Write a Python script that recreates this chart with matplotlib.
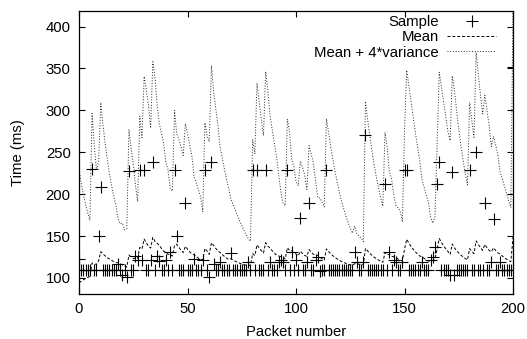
import numpy as np
import matplotlib.pyplot as plt

plt.rcParams['font.family'] = ['Liberation Sans', 'DejaVu Sans']

# round-trip time samples (ms), packet 0..200
samples = [
    123, 110, 110, 110, 110, 110, 230, 110, 110, 150,
    209, 110, 110, 110, 110, 110, 110, 110, 117, 110,
    103, 110, 101, 228, 110, 110, 126, 121, 229, 121,
    229, 110, 110, 121, 238, 110, 126, 120, 110, 110,
    121, 110, 131, 110, 229, 150, 110, 110, 110, 190,
    110, 110, 110, 123, 110, 110, 110, 121, 229, 110,
    101, 239, 117, 110, 110, 119, 110, 110, 110, 110,
    130, 110, 110, 110, 110, 110, 110, 110, 119, 110,
    229, 110, 229, 110, 110, 110, 229, 110, 119, 110,
    110, 110, 119, 121, 119, 110, 229, 110, 131, 110,
    121, 110, 171, 110, 110, 119, 190, 110, 110, 121,
    125, 108, 110, 110, 229, 110, 110, 110, 110, 110,
    110, 110, 110, 110, 110, 110, 110, 131, 119, 110,
    110, 119, 271, 110, 110, 110, 110, 110, 110, 110,
    110, 212, 110, 131, 110, 121, 119, 110, 110, 119,
    229, 229, 110, 110, 110, 110, 110, 110, 119, 110,
    110, 110, 121, 125, 137, 212, 238, 110, 110, 110,
    110, 103, 227, 103, 110, 110, 110, 110, 110, 110,
    229, 110, 110, 250, 110, 110, 110, 189, 110, 110,
    119, 170, 110, 110, 119, 110, 110, 110, 110, 110,
    352,
]

# estimator state before the first packet
mean_start = 90.0
dev_start = 34.0

samples = np.array(samples, dtype=float)
packets = np.arange(len(samples))

# Jacobson estimator: mean gain 1/8, deviation gain 1/4
mean = np.zeros(len(samples))
dev = np.zeros(len(samples))
m, d = mean_start, dev_start
for i, s in enumerate(samples):
    err = s - m
    m = m + err / 8.0
    d = d + (abs(err) - d) / 4.0
    mean[i] = m
    dev[i] = d
upper = mean + 4 * dev

fs = 10.7

fig = plt.figure(figsize=(5.27, 3.39), dpi=100)
ax = fig.add_axes([0.150, 0.133, 0.8235, 0.8355])

ax.plot(packets, samples, '+', color='black', markersize=9, mew=0.8, label='Sample')
ax.plot(packets, mean, color='black', lw=0.7, linestyle=(0, (3, 2)), label='Mean')
ax.plot(packets, upper, color='0.15', lw=0.7, linestyle=(0, (1, 1.8)), label='Mean + 4*variance')

ax.set_xlim(0, 200)
ax.set_ylim(81, 419)
ax.set_xticks([0, 50, 100, 150, 200])
ax.set_yticks([100, 150, 200, 250, 300, 350, 400])
ax.tick_params(direction='in', length=4, width=0.8, top=True, right=True, labelsize=fs, pad=6)
for s in ax.spines.values():
    s.set_linewidth(0.9)

ax.set_xlabel('Packet number', fontsize=fs)
ax.set_ylabel('Time (ms)', fontsize=fs)
ax.xaxis.set_label_coords(0.5, -0.11)
ax.yaxis.set_label_coords(-0.125, 0.5)

ax.legend(loc='upper right', bbox_to_anchor=(0.979, 1.012), markerfirst=False, frameon=False,
          fontsize=fs, handlelength=3.3, labelspacing=0.1, borderaxespad=0.1, handletextpad=0.6)

fig.savefig('out.png', dpi=100)
